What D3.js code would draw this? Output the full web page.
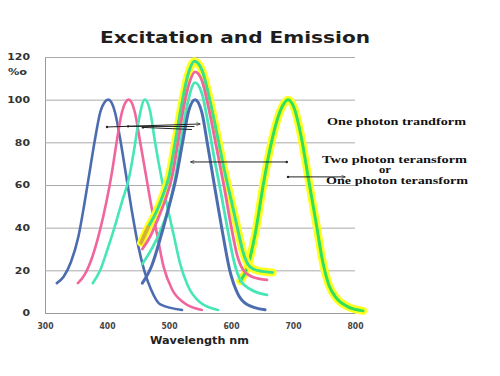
<!DOCTYPE html>
<html>
<head>
<meta charset="utf-8">
<script src="https://cdn.jsdelivr.net/npm/d3@7"></script>
<style>
body { margin: 0; background: #fff; }
svg { display: block; }
</style>
</head>
<body>
<div id="chart"></div>
<script>
// axis ticks
var xTicks = [300, 400, 500, 600, 700, 800];
var yTicks = [0, 20, 40, 60, 80, 100, 120];

// excitation curves  [wavelength nm, value]
var exBlue = [[319,14],[330,17],[342,24],[354,36],[364,52],[373,68],[381,82],[390,95],[402,100],[413,94],[421,82],[430,66],[440,48],[450,32],[460,20],[471,11],[486,4],[521,1.4]];
var exPink = [[353,14],[364,18],[376,26],[388,38],[399,52],[408,66],[416,81],[424,94],[435,100],[445,94],[453,81],[462,66],[471,51],[480,38],[491,22],[505,11],[523,5],[553,1.4]];
var exTeal = [[377,14],[389,20],[401,30],[412,40],[424,52],[436,64],[444,77],[451,90],[461,100],[470,94],[477,81],[488,63],[498,49],[508,36],[518,23],[530,13],[550,5],[579,1.4]];

// emission curves
var emBlue = [[457,14],[472,22],[487,36],[500,50],[512,64],[522,80],[532,95],[542,100],[553,94],[561,81],[572,62],[585,40],[598,20],[611,9],[626,4],[655,1.5]];
var emTeal = [[457,23],[470,29],[484,37],[498,48],[510,63],[519,80],[529,97],[542,108],[553,103],[563,89],[574,71],[584,56],[594,40],[605,24],[616,15],[632,11],[658,8.5]];
var emPink = [[457,30],[470,36],[482,44],[494,53],[505,64],[515,81],[524,97],[533,108],[542,113],[553,109],[564,96],[577,77],[589,59],[600,41],[610,27],[620,20],[634,17],[658,15.5]];
var emGreen = [[455,33],[466,40],[479,47],[490,55],[500,64],[510,80],[520,97],[530,111],[541,118],[553,114],[565,101],[578,83],[590,66],[601,52],[611,39],[619,29],[627,23],[637,20.5],[650,19.5],[667,19]];
var em700 = [[615,15],[626,21],[639,37],[652,60],[663,77],[674,90],[683,97],[692,100],[702,96],[713,83],[726,61],[738,41],[748,24],[758,13],[770,7],[788,3],[813,1]];

// arrows drawn on the plot [from, to]
var arrowLines = [
    {from: [400,87.2], to: [550,88.6], head: true},
    {from: [434,87.5], to: [541,87.4], head: false},
    {from: [458,87.0], to: [537,86.0], head: false},
    {from: [690,70.8], to: [535,70.8], head: true},
    {from: [692,63.8], to: [784,63.8], head: true}
];

var notes = ["One photon trandform", "Two photon teransform", "or", "One photon teransform"];

var width = 500, height = 376;

var svg = d3.select("#chart").append("svg")
    .attr("width", width)
    .attr("height", height);

var x = d3.scaleLinear().domain([300, 800]).range([45, 355]);
var y = d3.scaleLinear().domain([0, 120]).range([313, 57]);

// gridlines + y labels
var yAxis = svg.append("g")
    .attr("transform", "translate(45,0)")
    .call(d3.axisLeft(y).tickValues(yTicks).tickSizeInner(-310).tickSizeOuter(0).tickPadding(15).tickFormat(d3.format("d")));
yAxis.select(".domain").attr("stroke", "#999").attr("stroke-width", 1);
yAxis.selectAll(".tick line").attr("stroke", "#ababab").attr("stroke-width", 1);
yAxis.selectAll(".tick text")
    .attr("fill", "#333")
    .attr("font-family", "DejaVu Sans")
    .attr("font-weight", "bold")
    .attr("font-size", 8.5)
    .attr("lengthAdjust", "spacingAndGlyphs")
    .attr("textLength", function(d) { return String(d).length * 7.6; });

var xAxis = svg.append("g")
    .attr("transform", "translate(0,313)")
    .call(d3.axisBottom(x).tickValues(xTicks).tickSize(0).tickPadding(10));
xAxis.select(".domain").attr("stroke", "#999").attr("stroke-width", 1.2);
xAxis.selectAll(".tick text")
    .attr("fill", "#444")
    .attr("font-family", "DejaVu Sans")
    .attr("font-weight", "bold")
    .attr("font-size", 8)
    .attr("lengthAdjust", "spacingAndGlyphs")
    .attr("textLength", 16);

var line = d3.line()
    .x(function(d) { return x(d[0]); })
    .y(function(d) { return y(d[1]); })
    .curve(d3.curveMonotoneX);

function curve(data, color, w) {
    svg.append("path")
        .attr("d", line(data))
        .attr("fill", "none")
        .attr("stroke", color)
        .attr("stroke-width", w)
        .attr("stroke-linecap", "round")
        .attr("stroke-linejoin", "round");
}

// excitation
curve(exBlue, "#4c6cb0", 2.6);
curve(exPink, "#f0669c", 2.6);
curve(exTeal, "#46e6b6", 2.6);

// 700 nm emission
curve(em700, "#ffff1e", 8);
curve(em700, "#2ee05a", 3);

// 540 nm emissions
curve(emGreen, "#ffff1e", 8);
curve(emGreen, "#38e08a", 3);
curve(emPink, "#f0669c", 2.8);
curve(emTeal, "#46e6b6", 2.8);
curve(emBlue, "#4c6cb0", 3);

// orange tinge at start of the outer curve
svg.append("path")
    .attr("d", line(emGreen.slice(0, 2)))
    .attr("fill", "none")
    .attr("stroke", "#f5a623")
    .attr("stroke-width", 4)
    .attr("stroke-linecap", "round")
    .attr("opacity", 0.8);

// arrows
svg.append("defs").append("marker")
    .attr("id", "arr")
    .attr("viewBox", "0 0 10 10")
    .attr("refX", 9).attr("refY", 5)
    .attr("markerWidth", 6).attr("markerHeight", 4)
    .attr("orient", "auto")
    .append("path")
    .attr("d", "M0,1 L10,5 L0,9")
    .attr("fill", "none")
    .attr("stroke", "#222")
    .attr("stroke-width", 1.5);

arrowLines.forEach(function(a) {
    svg.append("line")
        .attr("x1", x(a.from[0])).attr("y1", y(a.from[1]))
        .attr("x2", x(a.to[0])).attr("y2", y(a.to[1]))
        .attr("stroke", "#222")
        .attr("stroke-width", 1)
        .attr("marker-end", a.head ? "url(#arr)" : null);
    svg.append("circle")
        .attr("cx", x(a.from[0])).attr("cy", y(a.from[1]))
        .attr("r", 1.2)
        .attr("fill", "#222");
});

// title
svg.append("text")
    .attr("x", 100).attr("y", 43)
    .attr("font-family", "DejaVu Sans")
    .attr("font-weight", "bold")
    .attr("font-size", 15)
    .attr("fill", "#1e1e1e")
    .attr("lengthAdjust", "spacingAndGlyphs")
    .attr("textLength", 270)
    .text("Excitation and Emission");

svg.append("text")
    .attr("x", 8).attr("y", 75)
    .attr("font-family", "DejaVu Sans")
    .attr("font-weight", "bold")
    .attr("font-size", 8.5)
    .attr("fill", "#333")
    .attr("lengthAdjust", "spacingAndGlyphs")
    .attr("textLength", 19)
    .text("%o");

svg.append("text")
    .attr("x", 150).attr("y", 344)
    .attr("font-family", "DejaVu Sans")
    .attr("font-weight", "bold")
    .attr("font-size", 10)
    .attr("fill", "#222")
    .attr("lengthAdjust", "spacingAndGlyphs")
    .attr("textLength", 99)
    .text("Wavelength nm");

// annotation texts
var notePos = [
    {x: 327, y: 125, len: 139},
    {x: 322, y: 163, len: 145},
    {x: 379, y: 173, len: 12},
    {x: 326, y: 184, len: 142}
];
notes.forEach(function(t, i) {
    svg.append("text")
        .attr("x", notePos[i].x).attr("y", notePos[i].y)
        .attr("font-family", "Liberation Serif")
        .attr("font-weight", "bold")
        .attr("font-size", 10)
        .attr("fill", "#111")
        .attr("lengthAdjust", "spacingAndGlyphs")
        .attr("textLength", notePos[i].len)
        .text(t);
});
</script>
</body>
</html>
